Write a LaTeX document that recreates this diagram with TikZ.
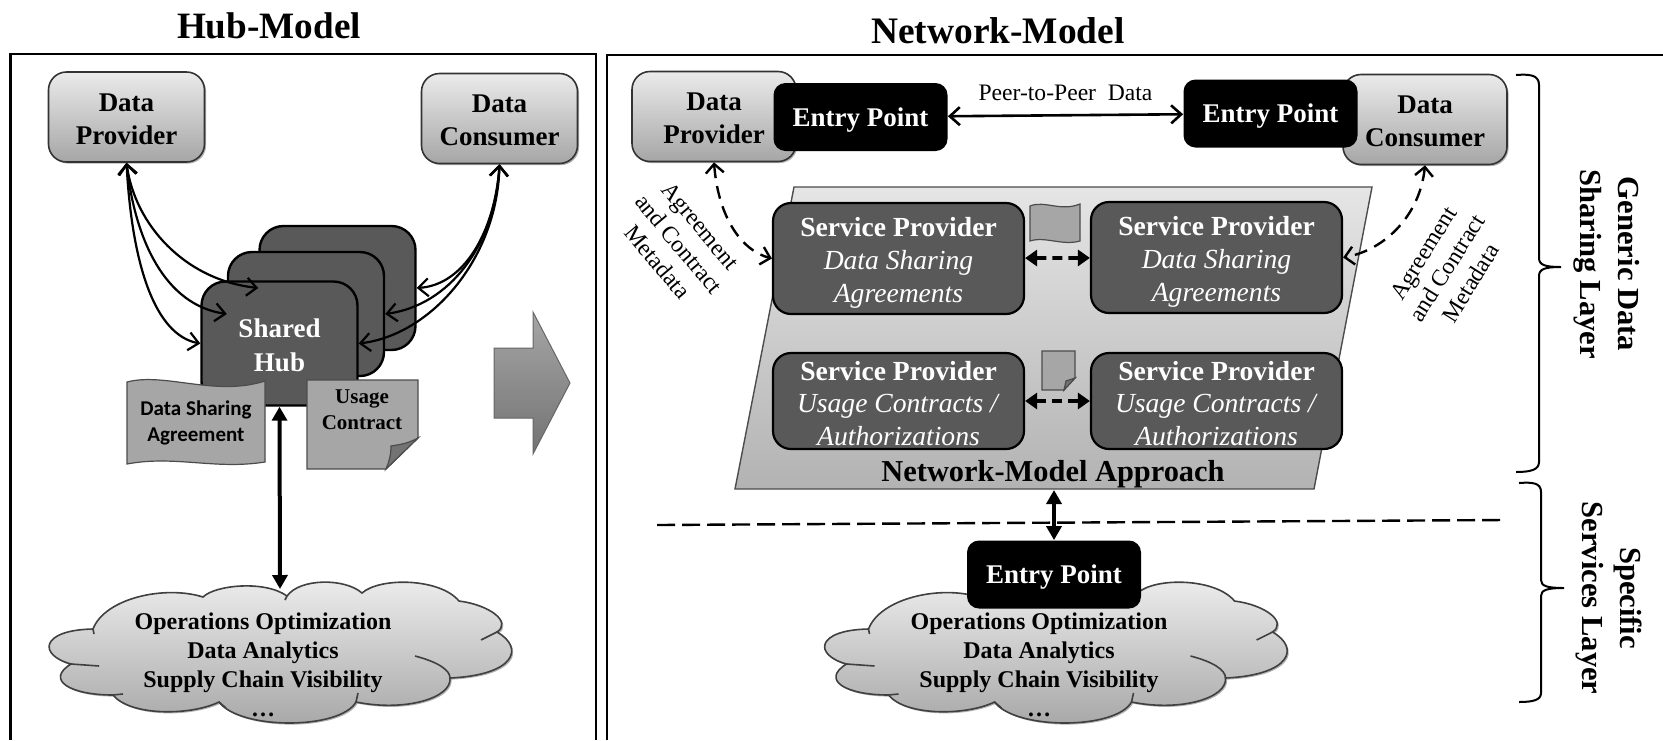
\documentclass[tikz,border=0pt]{standalone}
\usepackage{fontspec}
\setmainfont{Liberation Serif}
\newfontfamily\docfont{Carlito}
\usepackage{tikz}
\usetikzlibrary{positioning,
				arrows.meta,
				shadows}
\definecolor{hubgray}{HTML}{595959}
\definecolor{docgray}{HTML}{A6A6A6}
\newcommand{\lowerby}[1]{\rule{0pt}{#1}}
\tikzset{
	softshadow/.style={drop shadow={shadow xshift=.8pt,shadow yshift=-.8pt,opacity=.3,fill=black}},
	partybox/.style={draw=black!80,line width=.8pt,rounded corners=9pt,top color=black!8,bottom color=black!35,softshadow,
		minimum width=78pt,minimum height=45pt,inner sep=0pt,align=center,font=\fontsize{13.5}{16.5}\selectfont\bfseries},
	hubbox/.style={draw=black,line width=1.2pt,rounded corners=12pt,fill=hubgray,minimum width=78pt,minimum height=62pt,inner sep=0pt,
		align=center,text=white,font=\fontsize{13.5}{17}\selectfont\bfseries},
	entrybox/.style={fill=black,rounded corners=6pt,minimum width=87pt,minimum height=34pt,inner sep=0pt,text=white,
		text height=12pt,text depth=3pt,font=\fontsize{13.5}{16}\selectfont\bfseries},
	servicebox/.style={draw=black,line width=1.1pt,rounded corners=9pt,fill=hubgray,minimum width=125.5pt,inner sep=0pt,
		align=center,text=white,font=\fontsize{13.8}{16.4}\selectfont},
	doc/.style={draw=black!70,line width=.6pt,fill=docgray},
	titletext/.style={inner sep=0pt,font=\fontsize{#1}{#1}\selectfont\bfseries},
	sidetext/.style={inner sep=0pt,align=center,rotate=-90,font=\fontsize{15.3}{19}\selectfont\bfseries},
	metatext/.style={inner sep=0pt,align=center,font=\fontsize{11.8}{14}\selectfont},
	cloudtext/.style={inner sep=0pt,align=center,font=\fontsize{12}{14.6}\selectfont\bfseries},
	hublink/.style={line width=1.1pt,{Straight Barb[length=5pt,width=9pt]}-{Straight Barb[length=5pt,width=9pt]}},
	peerlink/.style={line width=1.3pt,{Straight Barb[length=5pt,width=9pt]}-{Straight Barb[length=5pt,width=9pt]}},
	metalink/.style={line width=1.2pt,dash pattern=on 6.5pt off 4pt,{Straight Barb[length=4.5pt,width=9pt]}-{Straight Barb[length=4.5pt,width=9pt]}},
	servicelink/.style={line width=1.9pt,dash pattern=on 5pt off 3pt,{Triangle[length=6pt,width=8pt]}-{Triangle[length=6pt,width=8pt]}},
	mainlink/.style={line width=2pt,{Triangle[length=7pt,width=7.5pt]}-{Triangle[length=7pt,width=7.5pt]}},
	layerbrace/.style={draw,line width=1pt},
	cloudbody/.pic={
		\path[draw=black!75,line width=.8pt,top color=black!7,bottom color=black!35,softshadow]
			(93,629) .. controls (105,598) and (165,585) .. (203,597)
			.. controls (215,585) and (265,580) .. (287,596)
			.. controls (300,578) and (345,578) .. (362,593)
			.. controls (380,577) and (440,578) .. (459,601)
			.. controls (490,605) and (512,622) .. (497,632)
			.. controls (525,648) and (515,675) .. (450,678)
			.. controls (452,698) and (405,712) .. (356,702)
			.. controls (340,730) and (240,730) .. (219,702)
			.. controls (190,716) and (130,716) .. (113,695)
			.. controls (70,695) and (45,680) .. (71,664)
			.. controls (38,655) and (40,630) .. (93,629) -- cycle;
		\draw[black!75,line width=.8pt] (93,629) -- (94,634);
		\draw[black!75,line width=.8pt] (287,596) -- (285,600);
		\draw[black!75,line width=.8pt] (497,632) -- (481,640);
		\draw[black!75,line width=.8pt] (415,656) .. controls (438,662) and (450,670) .. (450,678);
		\draw[black!75,line width=.8pt] (356,702) -- (358,693);
		\draw[black!75,line width=.8pt] (219,702) -- (226,708);
		\draw[black!75,line width=.8pt] (113,695) -- (123,694);
		\draw[black!75,line width=.8pt] (71,664) -- (99,666);
	}
}

\begin{document}
\begin{tikzpicture}[x=.5pt,y=-.5pt]
	\useasboundingbox (0,0) rectangle (1663,740);

	% panels
	\draw[line width=1.2pt] (10.6,740) -- (10.6,54) -- (596,54) -- (596,740);
	\draw[line width=1.2pt] (607,740) -- (607,55) -- (1663,55);
	\node[titletext=18.6] (hubTitle) at (269,26) {Hub-Model};
	\node[titletext=18.7] (netTitle) at (998,31) {Network-Model};

	% hub model
	\node[partybox] (provHub) at (126.5,117) {\lowerby{11pt}Data\\Provider};
	\node[partybox] (consHub) at (499.5,118.5) {\lowerby{11pt}Data\\Consumer};
	\node[hubbox] (hubBack) at (337.5,288) {};
	\node[hubbox] (hubMid) at (306,314) {};
	\node[hubbox] (hubFront) at (279.5,343.5) {\lowerby{11pt}Shared\\Hub};
	\foreach \hub/\ca/\cb/\cc/\cd in {hubBack/135/225/185/280, hubMid/135/240/165/305, hubFront/132/265/155/335}
		\draw[hublink] (provHub.south) .. controls (\ca,\cb) and (\cc,\cd) .. (\hub.west);
	\foreach \hub/\ca/\cb/\cc/\cd in {hubBack/495/230/465/285, hubMid/495/245/450/305, hubFront/497/260/430/335}
		\draw[hublink] (consHub.south) .. controls (\ca,\cb) and (\cc,\cd) .. (\hub.east);
	\draw[doc] (127,382) .. controls (165,372) and (215,397) .. (265,381) -- (265,462)
		.. controls (215,470) and (175,455) .. (127,464) -- cycle;
	\node[inner sep=0pt,align=center,font=\docfont\fontsize{10.5}{12.6}\selectfont\bfseries] (agreeDoc) at (196,423) {Data Sharing\\Agreement};
	\draw[doc] (307,380) -- (418,380) -- (418,438) -- (386,469) -- (307,469) -- cycle;
	\draw[doc,fill=black!55] (418,438) .. controls (405,445) and (395,445) .. (391,446) .. controls (391,455) and (389,462) .. (386,469) -- cycle;
	\node[inner sep=0pt,align=center,font=\fontsize{10.5}{13}\selectfont\bfseries] (contractDoc) at (362,410) {Usage\\Contract};
	\coordinate (hubCloudTop) at (280,589);
	\pic at (0,0) {cloudbody};
	\node[cloudtext] (hubCloud) at (263,665) {Operations Optimization\\Data Analytics\\Supply Chain Visibility\\\dots};
	\draw[mainlink] (hubFront.south) -- (hubCloudTop);

	% middle arrow
	\draw[draw=black!60,line width=.5pt,top color=black!35,bottom color=black!55] (494,348) -- (533,348) -- (533,312) -- (570,383) -- (533,454) -- (533,418) -- (494,418) -- cycle;

	% network model
	\draw[draw=black!70,line width=.7pt,top color=black!10,bottom color=black!30] (794,187) -- (1372,187) -- (1314,489) -- (735,489) -- cycle;
	\coordinate (netBottom) at (1054,490);
	\node[partybox,minimum width=82pt] (provNet) at (714,116.5) {\lowerby{11pt}Data\\Provider};
	\node[partybox,minimum width=82pt] (consNet) at (1425,119.5) {\lowerby{11pt}Data\\Consumer};
	\node[entrybox] (entryLeft) at (860.5,117) {Entry Point};
	\node[entrybox] (entryRight) at (1270.5,113.5) {Entry Point};
	\draw[peerlink] (entryLeft) -- (entryRight) node[pos=.5,above=6.5pt,inner sep=0pt,font=\fontsize{11.8}{14}\selectfont] (peerText) {Peer-to-Peer~~Data};
	\node[servicebox,minimum height=55.5pt] (shareLeft) at (898.5,258.5) {\lowerby{14pt}\textbf{Service Provider}\\\textit{Data Sharing}\\\textit{Agreements}};
	\node[servicebox,minimum height=55.5pt] (shareRight) at (1216.5,257.5) {\lowerby{14pt}\textbf{Service Provider}\\\textit{Data Sharing}\\\textit{Agreements}};
	\node[servicebox,minimum height=48pt] (useLeft) at (898.5,401) {\lowerby{12pt}\textbf{Service Provider}\\\textit{Usage Contracts /}\\\textit{Authorizations}};
	\node[servicebox,minimum height=48pt] (useRight) at (1216.5,401) {\lowerby{12pt}\textbf{Service Provider}\\\textit{Usage Contracts /}\\\textit{Authorizations}};
	\draw[servicelink] (shareLeft) -- (shareRight);
	\draw[servicelink] (useLeft) -- (useRight);
	\draw[doc] (1030,206) .. controls (1045,200) and (1060,212) .. (1080,204) -- (1080,241) .. controls (1062,246) and (1045,236) .. (1030,241) -- cycle;
	\draw[doc] (1042,351) -- (1075,351) -- (1075,378) -- (1064,390) -- (1042,390) -- cycle;
	\draw[doc,fill=black!55] (1075,378) -- (1066,381) -- (1064,390) -- cycle;
	\node[inner sep=0pt,font=\fontsize{15.2}{18}\selectfont\bfseries] (netLabel) at (1053,474) {Network-Model Approach};
	\draw[metalink] (provNet.south) .. controls (718,215) and (740,250) .. (shareLeft.west);
	\draw[metalink] (consNet.south) .. controls (1420,215) and (1385,250) .. (shareRight.east);
	\node[metatext,rotate=-50] (metaLeft) at (679,244) {Agreement\\and Contract\\Metadata};
	\node[metatext,rotate=58] (metaRight) at (1447,268) {Agreement\\and Contract\\Metadata};

	% layers
	\coordinate (sepLeft) at (657,525);
	\coordinate (sepRight) at (1504,520);
	\draw[line width=1.2pt,dash pattern=on 9pt off 3.5pt] (sepLeft) -- (sepRight);
	\pic at (775.5,0) {cloudbody};
	\node[entrybox] (entryMid) at (1054,574.5) {Entry Point};
	\node[cloudtext] (netCloud) at (1039,665) {Operations Optimization\\Data Analytics\\Supply Chain Visibility\\\dots};
	\draw[mainlink] (netBottom) -- (entryMid.north);
	\draw[layerbrace] (1516,75) .. controls (1530,74) and (1539,75) .. (1539,85) -- (1539,258) .. controls (1539,265) and (1545,267) .. (1561,267)
		.. controls (1545,267) and (1539,269) .. (1539,276) -- (1539,462) .. controls (1539,470) and (1530,472) .. (1516,472);
	\draw[layerbrace] (1519,483) .. controls (1533,482) and (1541,483) .. (1541,492) -- (1541,580) .. controls (1541,586) and (1547,588) .. (1564,588)
		.. controls (1547,588) and (1541,590) .. (1541,596) -- (1541,693) .. controls (1541,700) and (1533,702) .. (1519,702);
	\node[sidetext] (genericLayer) at (1607,264) {Generic Data\\Sharing Layer};
	\node[sidetext] (specificLayer) at (1609,598) {Specific\\Services Layer};
\end{tikzpicture}
\end{document}
